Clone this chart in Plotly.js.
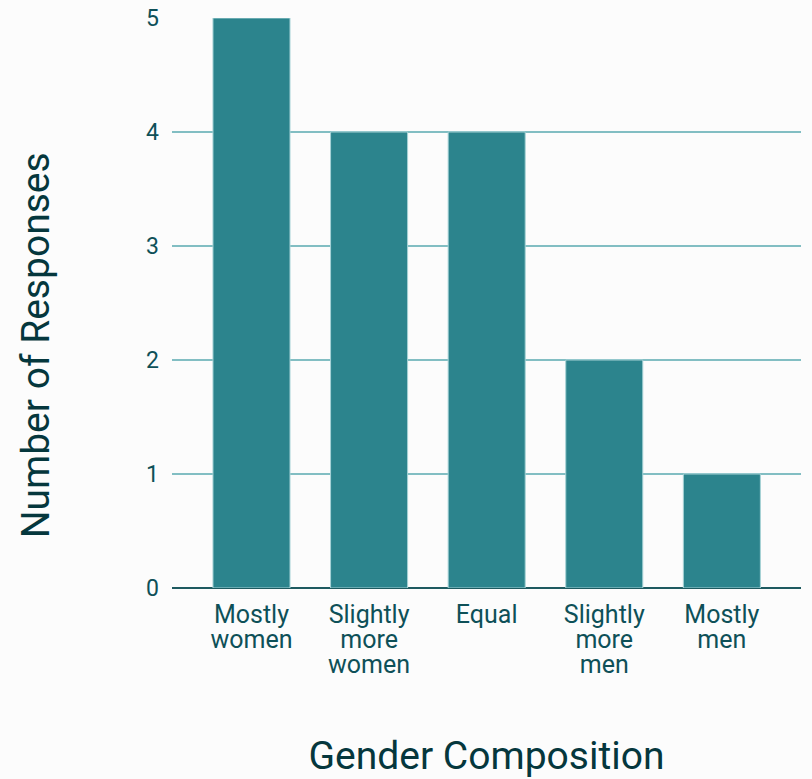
<!DOCTYPE html>
<html>
<head>
<meta charset="utf-8">
<script src="https://cdn.plot.ly/plotly-3.0.1.min.js"></script>
<style>html,body{margin:0;padding:0;background:#fcfcfc;}</style>
</head>
<body>
<div id="chart" style="width:812px;height:779px;"></div>
<script>
const categories = ["Mostly<br>women", "Slightly<br>more<br>women", "Equal", "Slightly<br>more<br>men", "Mostly<br>men"];
const responses = [5, 4, 4, 2, 1];
const yTicks = [0, 1, 2, 3, 4, 5];

const trace = {
  type: 'bar',
  x: categories,
  y: responses,
  width: 0.655,
  marker: {color: '#2c848d', line: {color: '#a6d2d6', width: 1}},
  hoverinfo: 'x+y'
};

const layout = {
  width: 812,
  height: 779,
  paper_bgcolor: '#fcfcfc',
  plot_bgcolor: '#fcfcfc',
  margin: {l: 172, r: 11, t: 18, b: 191},
  showlegend: false,
  font: {family: 'Roboto, sans-serif', color: '#0e5058'},
  xaxis: {
    type: 'category',
    range: [-0.676, 4.673],
    showgrid: false,
    showline: false,
    ticks: '',
    ticklabelstandoff: 9,
    tickfont: {size: 25, color: '#0e5058'},
    title: {text: 'Gender Composition', font: {size: 39, color: '#05373d'}, standoff: 60},
    automargin: false
  },
  yaxis: {
    range: [0, 5],
    tickvals: yTicks,
    ticktext: yTicks.map(String),
    showgrid: true,
    gridcolor: '#82bec3',
    gridwidth: 1.5,
    zeroline: true,
    zerolinecolor: '#1e5a60',
    zerolinewidth: 2,
    showline: false,
    ticks: '',
    ticklabelstandoff: 12,
    tickfont: {size: 23, color: '#0e5058'},
    automargin: false
  },
  annotations: [{
    text: 'Number of Responses',
    textangle: -90,
    xref: 'paper', yref: 'paper',
    x: -0.216, y: 0.426,
    xanchor: 'center', yanchor: 'middle',
    showarrow: false,
    font: {size: 39, color: '#05373d'}
  }]
};

Plotly.newPlot('chart', [trace], layout, {displayModeBar: false, staticPlot: true}).then(function () {
  // tighten multi-line tick label spacing to match the reference
  document.querySelectorAll('.xtick text tspan.line').forEach(function (t) {
    const dy = t.getAttribute('dy');
    if (dy && dy.indexOf('em') > 0) {
      const v = parseFloat(dy);
      if (v > 0) t.setAttribute('dy', (v / 1.3 * 1.0) + 'em');
    }
  });
});
</script>
</body>
</html>
